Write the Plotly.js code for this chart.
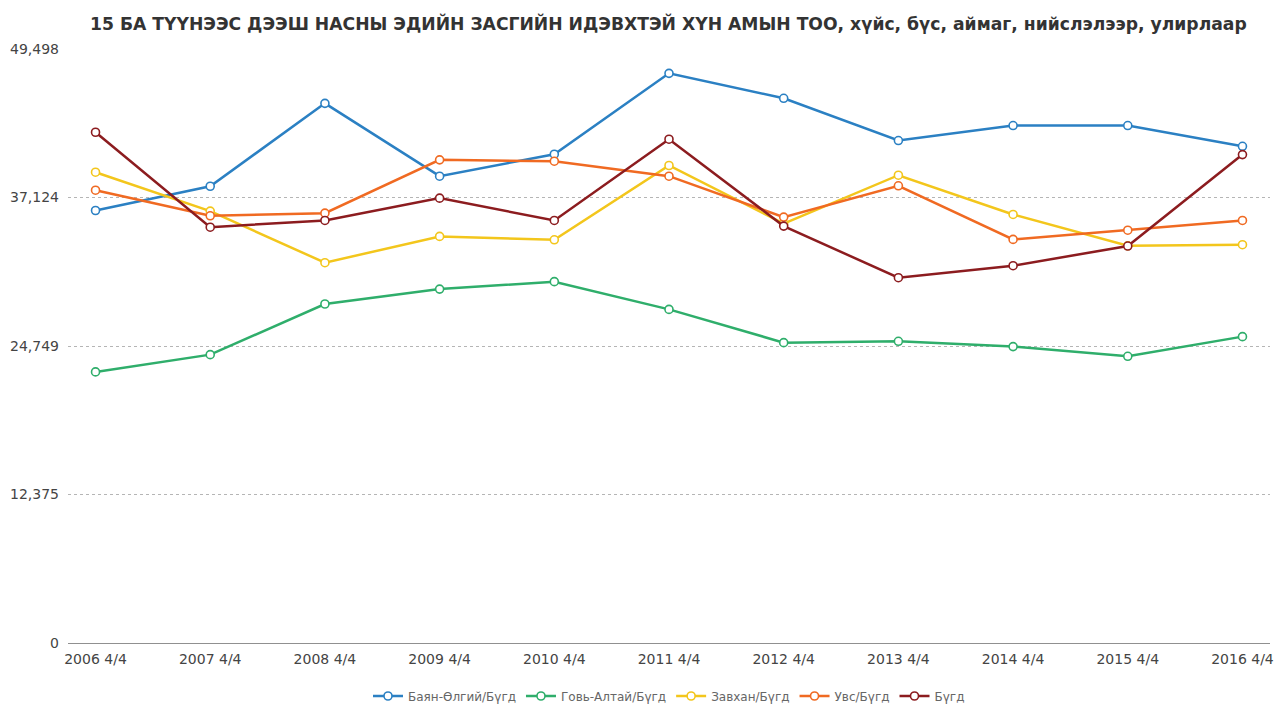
<!DOCTYPE html>
<html>
<head>
<meta charset="utf-8">
<script src="https://cdn.plot.ly/plotly-3.0.1.min.js"></script>
<style>html,body{margin:0;padding:0;background:#fff;}#chart{width:1276px;height:704px;}</style>
</head>
<body>
<div id="chart"></div>
<script>
const categories = ["2006 4/4","2007 4/4","2008 4/4","2009 4/4","2010 4/4","2011 4/4","2012 4/4","2013 4/4","2014 4/4","2015 4/4","2016 4/4"];
const seriesNames = ["Баян-Өлгий/Бүгд","Говь-Алтай/Бүгд","Завхан/Бүгд","Увс/Бүгд","Бүгд"];
const bayanOlgii = [36040,38060,44970,38900,40730,47470,45390,41870,43120,43120,41390];
const goviAltai  = [22590,24030,28250,29490,30110,27800,25030,25140,24700,23890,25530];
const zavkhan    = [39230,35990,31690,33880,33600,39790,34940,38980,35710,33100,33190];
const uvs        = [37730,35600,35820,40260,40150,38900,35490,38100,33630,34400,35210];
const total      = [42560,34650,35210,37070,35210,41980,34740,30440,31440,33080,40700];
const yTickVals  = [0,12375,24749,37124,49498];
const yTickText  = ["0","12,375","24,749","37,124","49,498"];
const colors = ["#2b80c3","#2fae6b","#f3c61c","#f06a22","#8c1c1f"];

const seriesValues = [bayanOlgii, goviAltai, zavkhan, uvs, total];
const traces = seriesValues.map((vals, i) => ({
  type: "scatter",
  mode: "lines+markers",
  name: seriesNames[i],
  x: categories,
  y: vals,
  line: {color: colors[i], width: 2.5},
  marker: {symbol: "circle", size: 8, color: "#ffffff", line: {color: colors[i], width: 1.6}},
  cliponaxis: false
}));

const layout = {
  width: 1276, height: 704,
  paper_bgcolor: "#ffffff", plot_bgcolor: "#ffffff",
  margin: {l: 68, r: 6, t: 49, b: 61, autoexpand: false},
  font: {family: "DejaVu Sans, sans-serif", color: "#444"},
  title: {
    text: "15 БА ТҮҮНЭЭС ДЭЭШ НАСНЫ ЭДИЙН ЗАСГИЙН ИДЭВХТЭЙ ХҮН АМЫН ТОО, хүйс, бүс, аймаг, нийслэлээр, улирлаар",
    font: {family: "DejaVu Sans, sans-serif", size: 17.2, color: "#333", weight: "bold"},
    xref: "container", x: 90/1276, xanchor: "left",
    yref: "container", y: 1 - 24/704, yanchor: "middle"
  },
  xaxis: {
    type: "category",
    range: [-0.24, 10.24],
    showgrid: false, zeroline: false, showline: false,
    ticks: "", tickfont: {size: 14, color: "#444"},
    ticklabelstandoff: 6
  },
  yaxis: {
    range: [0, 49498],
    tickvals: yTickVals, ticktext: yTickText,
    showgrid: true, gridcolor: "#b5b5b5", griddash: "dot", gridwidth: 1,
    zeroline: true, zerolinecolor: "#909090", zerolinewidth: 1,
    showline: false, ticks: "",
    tickfont: {size: 14, color: "#444"},
    ticklabelstandoff: 8
  },
  showlegend: true,
  legend: {
    orientation: "h", x: 0.5, xanchor: "center",
    yref: "container", y: 8/704, yanchor: "middle",
    font: {size: 12, color: "#666"},
    itemwidth: 30
  },
  hovermode: false
};

Plotly.newPlot("chart", traces, layout, {displayModeBar: false, staticPlot: true});
</script>
</body>
</html>
